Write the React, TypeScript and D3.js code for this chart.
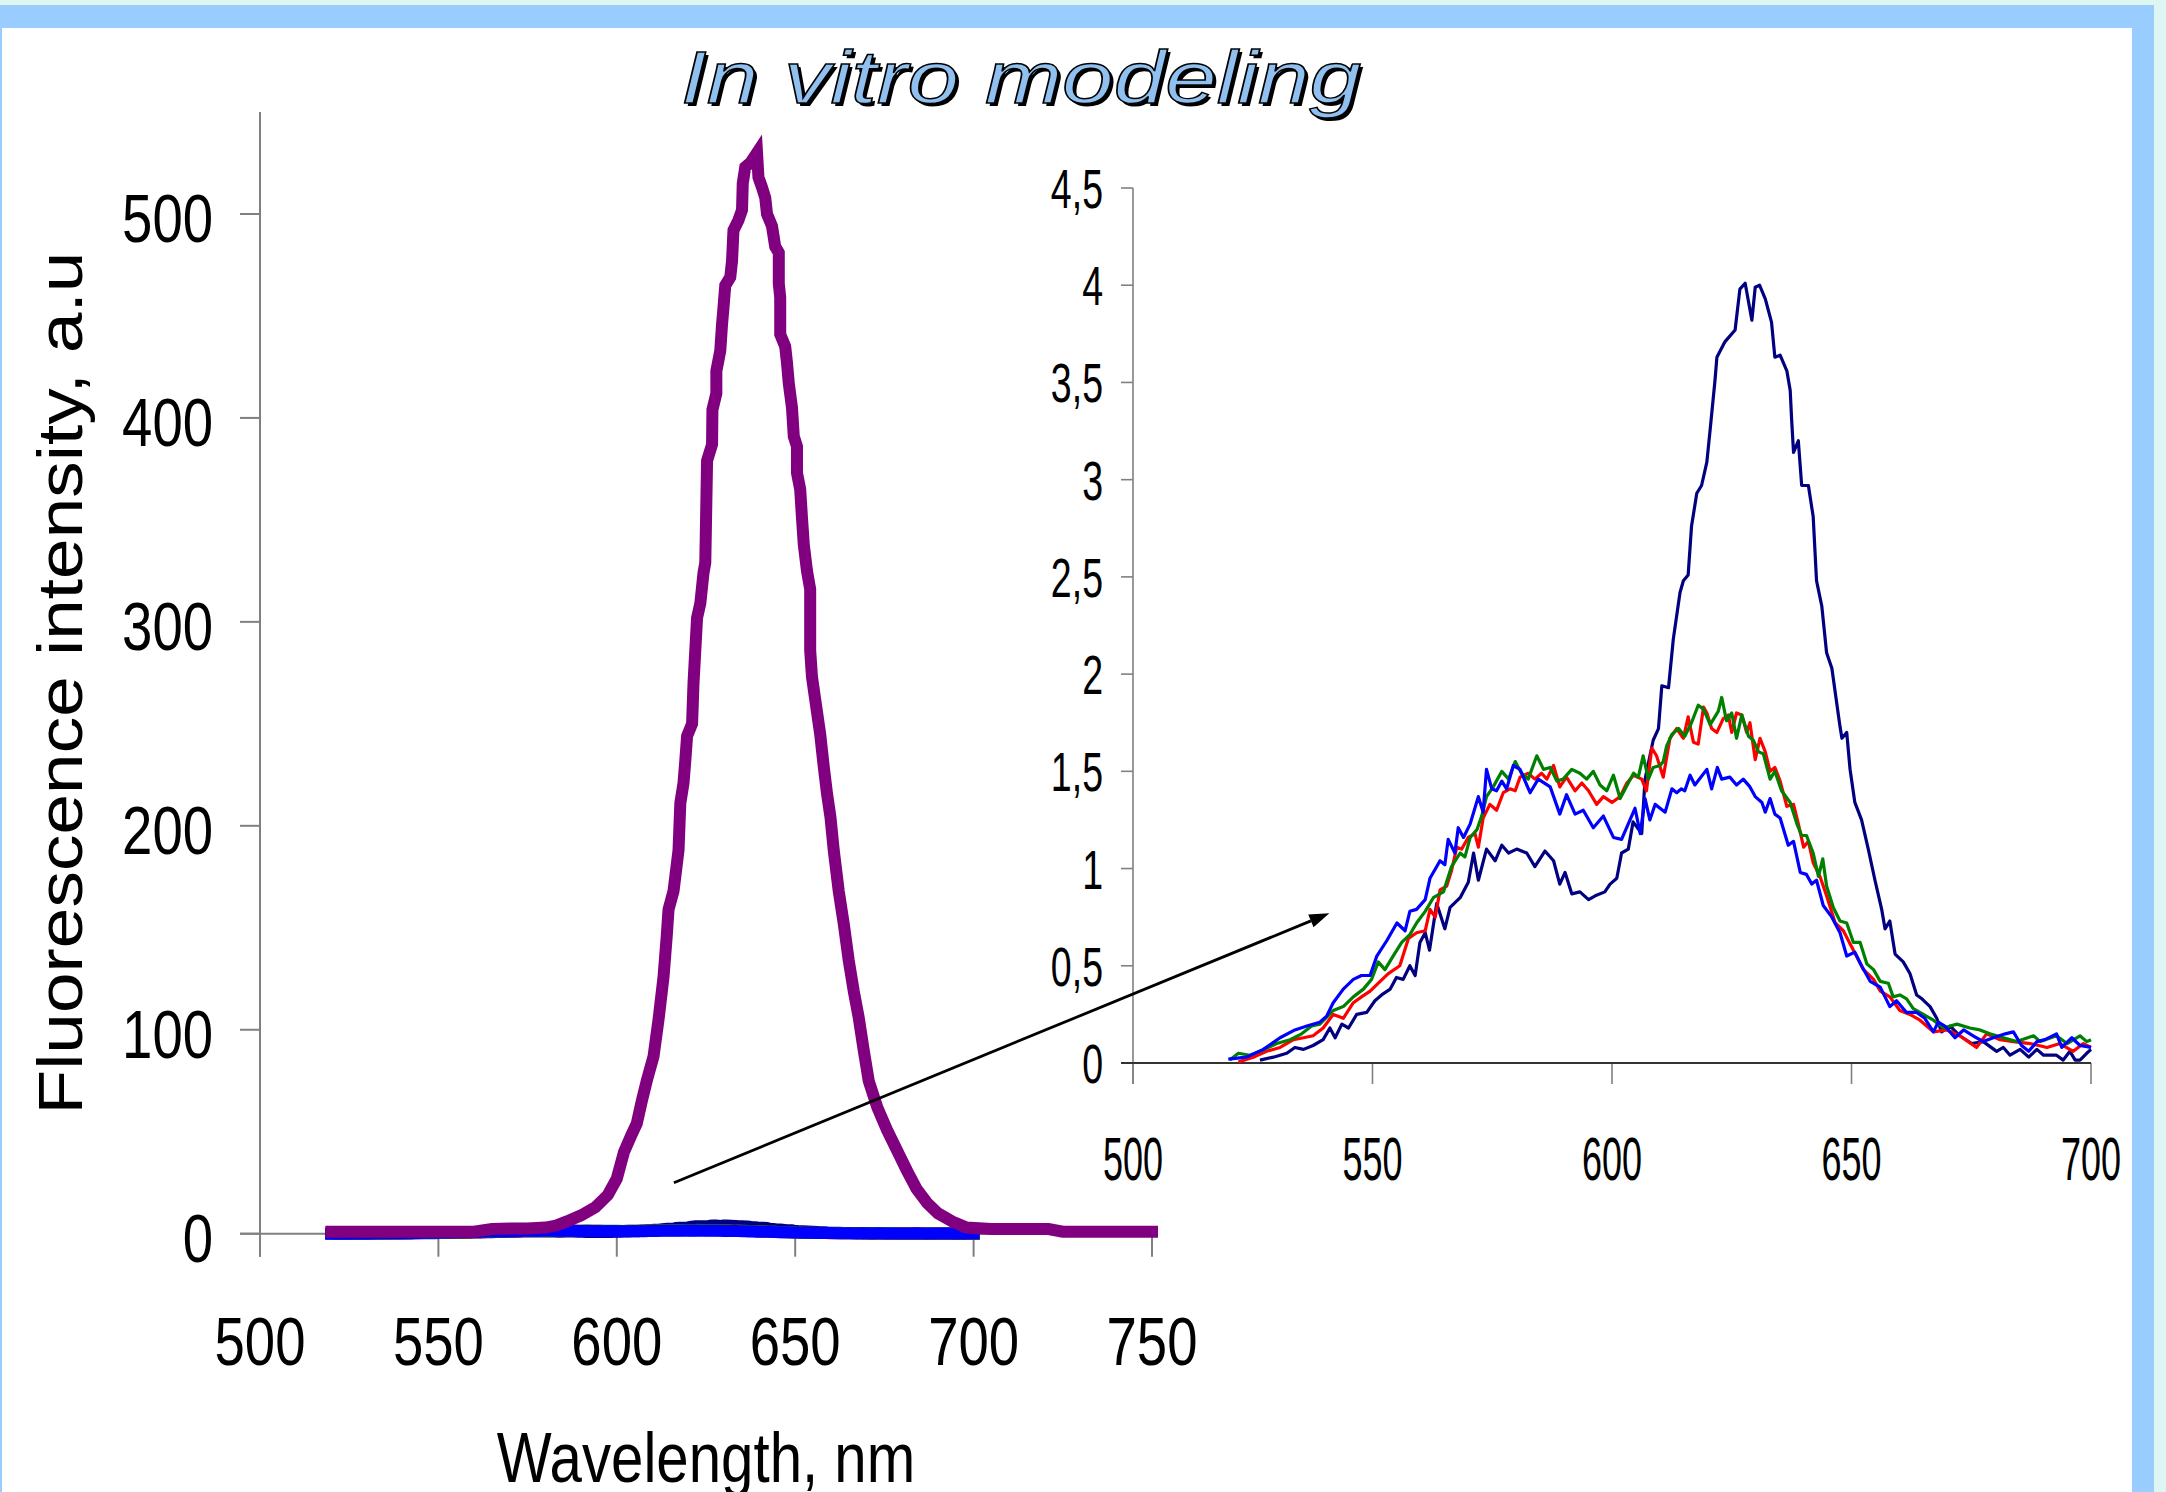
import React from 'react';
import * as d3 from 'd3';

const W = 2166;
const H = 1492;

// main chart ticks
const mainXTicks = [500, 550, 600, 650, 700, 750];
const mainYTicks = [0, 100, 200, 300, 400, 500];

// inset ticks (decimal comma as in the source slide)
const insetXTicks = [500, 550, 600, 650, 700];
const insetYTicks = [0, 0.5, 1, 1.5, 2, 2.5, 3, 3.5, 4, 4.5];
const insetYLabels = ['0', '0,5', '1', '1,5', '2', '2,5', '3', '3,5', '4', '4,5'];

// big spectrum on the main chart, [nm, a.u.]
const purpleSpectrum: [number, number][] = [
  [520, 1], [530, 1], [540, 1], [550, 1], [560, 1], [565, 2.3], [570, 2.5], [575, 2.5], [580, 3],
  [583, 4], [586, 6], [590, 9], [594, 13], [597.5, 19], [600, 27], [602, 40], [604, 48], [605.6, 54],
  [607, 65], [608.4, 75], [610.3, 87], [611.7, 105], [613.1, 126], [614, 146], [614.5, 159], [615.9, 168],
  [617.3, 188], [617.8, 211], [618.7, 221], [619.2, 232], [619.7, 244], [621.1, 250], [621.5, 270],
  [622, 286], [622.5, 302], [623.4, 309], [624.3, 324], [624.8, 329], [625.3, 379], [626.7, 387],
  [626.8, 404], [627.9, 412], [627.9, 423], [629, 433], [629.5, 446], [629.9, 454], [630.4, 465],
  [631.8, 469], [632.3, 477], [632.7, 492], [634.1, 497], [635.1, 502], [635.3, 515], [636, 523],
  [637.4, 525], [639.3, 530], [639.7, 518], [640.7, 513], [641.6, 508], [642.1, 500], [643.5, 494],
  [644.4, 484], [645.4, 481], [645.4, 466], [645.8, 459], [645.8, 441], [647.2, 435], [647.7, 427],
  [648.2, 417], [649.1, 405], [649.6, 391], [650.5, 386], [650.5, 373], [651.4, 365], [651.9, 351],
  [652.4, 338], [653.3, 325], [654.2, 316], [654.2, 286], [654.7, 273], [655.6, 262], [657, 245],
  [658, 229], [658.9, 216], [659.9, 204], [660.8, 188], [662.2, 168], [663.6, 152], [665, 134],
  [666.4, 119], [667.8, 106], [669.2, 90], [670.6, 75], [673, 62], [675.7, 51], [678.5, 41],
  [681.3, 31], [684, 22], [687, 15], [690, 10], [694, 6], [698, 3], [705, 2.3], [715, 2.3],
  [721, 2.3], [725, 1], [735, 1], [750, 1],
];

// the four weak spectra (shown in the inset), [nm, a.u.]
const navySpectrum: [number, number][] = [
  [526.5, 0.015], [529.3, 0.03], [532.1, 0.05], [533.8, 0.08], [535.6, 0.07], [537.6, 0.09], [539.7, 0.12],
  [541.1, 0.18], [542.2, 0.13], [543.6, 0.2], [545, 0.18], [546.7, 0.25], [548.8, 0.26], [550.5, 0.32],
  [551.9, 0.35], [553.7, 0.38], [555, 0.44], [556.4, 0.43], [557.8, 0.5], [558.9, 0.45], [559.9, 0.62],
  [561, 0.67], [561.9, 0.58], [563.4, 0.82], [565.1, 0.69], [566.2, 0.8], [568.3, 0.85], [570, 0.93],
  [571.1, 1.08], [572.1, 0.94], [573.8, 1.1], [575.6, 1.04], [577, 1.12], [578.4, 1.08], [580.1, 1.1],
  [582.2, 1.08], [583.9, 1.01], [586, 1.09], [587.8, 1.04], [589.1, 0.92], [590.2, 0.98], [591.6, 0.87],
  [593.3, 0.88], [595.1, 0.84], [596.5, 0.86], [598.5, 0.88], [599.6, 0.92], [601, 0.95], [602, 1.08],
  [603.4, 1.1], [604.4, 1.24], [606.2, 1.18], [606.9, 1.46], [608.6, 1.66], [609.7, 1.72], [610.4, 1.94],
  [611.8, 1.93], [612.8, 2.18], [614.2, 2.42], [614.9, 2.48], [615.9, 2.51], [616.6, 2.76], [617.7, 2.93],
  [618.7, 2.97], [619.8, 3.09], [620.5, 3.26], [621.5, 3.51], [621.9, 3.63], [623.6, 3.71], [625.7, 3.77],
  [626.7, 3.98], [627.8, 4.01], [629.2, 3.82], [629.9, 3.99], [630.8, 4.0], [632, 3.93], [633.3, 3.81],
  [634, 3.63], [635.1, 3.64], [636.5, 3.56], [637.2, 3.46], [637.5, 3.31], [637.9, 3.14], [638.9, 3.2],
  [639.6, 2.97], [641, 2.97], [642, 2.81], [642.7, 2.48], [643.8, 2.35], [644.8, 2.11], [645.9, 2.03],
  [647.6, 1.73], [648, 1.67], [649, 1.7], [649.7, 1.51], [650.7, 1.34], [652.1, 1.25], [653.5, 1.1],
  [654.9, 0.94], [656.3, 0.79], [657, 0.69], [658, 0.73], [659.1, 0.56], [660.8, 0.52], [662.2, 0.46],
  [663.6, 0.35], [664.7, 0.33], [666.4, 0.29], [667.8, 0.23], [668.8, 0.16], [670.6, 0.19], [672.6, 0.14],
  [675.1, 0.1], [677.5, 0.11], [680.3, 0.06], [681.7, 0.08], [683.1, 0.04], [685.2, 0.07], [687, 0.03],
  [688.7, 0.07], [690.1, 0.04], [692.8, 0.04], [694.2, 0.015], [695.6, 0.06], [696.7, 0.015],
  [697.7, 0.015], [699.1, 0.05], [700, 0.07],
];

const redSpectrum: [number, number][] = [
  [522, 0.005], [525.1, 0.03], [527.9, 0.06], [530.7, 0.08], [533.5, 0.12], [535.6, 0.13], [537.6, 0.14],
  [539.7, 0.18], [541.8, 0.25], [543.9, 0.23], [546, 0.31], [547.7, 0.34], [549.5, 0.37], [551.6, 0.42],
  [553.3, 0.46], [555.7, 0.5], [557.5, 0.64], [559.2, 0.67], [561, 0.68], [562, 0.79], [563.1, 0.75],
  [564.1, 0.89], [565.5, 0.91], [566.5, 0.99], [567.6, 1.11], [568.6, 1.1], [570, 1.16], [571.4, 1.18],
  [572.1, 1.11], [573.1, 1.26], [574.5, 1.33], [575.9, 1.3], [577.3, 1.39], [578.7, 1.41], [579.8, 1.4],
  [580.8, 1.47], [582.5, 1.49], [583.9, 1.46], [585.3, 1.49], [586.4, 1.46], [587.8, 1.53], [589.1, 1.42],
  [590.5, 1.47], [592.3, 1.4], [593.7, 1.44], [595.1, 1.4], [596.8, 1.33], [598.2, 1.37], [600, 1.34],
  [601.7, 1.37], [603.1, 1.44], [604.5, 1.48], [606.2, 1.46], [607.2, 1.4], [608.3, 1.62], [609.3, 1.58],
  [610.7, 1.47], [612.1, 1.67], [613.5, 1.72], [614.9, 1.67], [615.9, 1.78], [617, 1.65], [618, 1.64],
  [619.1, 1.83], [619.8, 1.8], [620.8, 1.72], [621.9, 1.7], [623.2, 1.77], [624.3, 1.79], [625, 1.7],
  [626, 1.8], [627.1, 1.79], [628.1, 1.7], [628.8, 1.75], [629.9, 1.56], [630.9, 1.67], [632, 1.6],
  [633, 1.5], [634, 1.52], [635.1, 1.45], [636.5, 1.32], [637.9, 1.33], [638.9, 1.23], [640, 1.11],
  [641, 1.14], [642, 1.03], [643.4, 0.96], [644.8, 0.86], [646.6, 0.72], [648.3, 0.68], [650.4, 0.58],
  [652.5, 0.48], [654.6, 0.43], [656, 0.37], [658, 0.34], [660.1, 0.27], [662.2, 0.25], [664.3, 0.22],
  [667.1, 0.16], [669.9, 0.17], [672.6, 0.14], [676.1, 0.08], [678.2, 0.15], [681, 0.12], [683.8, 0.11],
  [687.3, 0.1], [690.8, 0.08], [693.5, 0.1], [696.3, 0.06], [698.4, 0.1], [700, 0.08],
];

const greenSpectrum: [number, number][] = [
  [520.2, 0.015], [522, 0.05], [524.4, 0.04], [526.5, 0.06], [530, 0.1], [532.8, 0.12], [535.2, 0.15],
  [537.3, 0.19], [539, 0.2], [541.8, 0.27], [543.9, 0.29], [546, 0.34], [548.1, 0.38], [549.8, 0.43],
  [551.2, 0.52], [552.6, 0.48], [554.3, 0.55], [556.1, 0.62], [557.8, 0.66], [559.2, 0.72], [561, 0.78],
  [562.7, 0.85], [564.8, 0.88], [566.5, 1.01], [568.3, 1.08], [569.3, 1.06], [570.4, 1.16], [571.8, 1.2],
  [572.8, 1.27], [573.8, 1.37], [575.2, 1.42], [577, 1.5], [578.4, 1.46], [579.8, 1.55], [581.1, 1.49],
  [582.5, 1.46], [584.3, 1.58], [585.7, 1.51], [587.1, 1.52], [588.5, 1.45], [589.8, 1.46], [591.6, 1.51],
  [593.3, 1.49], [594.7, 1.46], [596.1, 1.5], [597.5, 1.43], [598.9, 1.4], [600.3, 1.48], [601.7, 1.36],
  [603.4, 1.44], [604.5, 1.49], [605.5, 1.47], [606.5, 1.58], [607.6, 1.46], [608.6, 1.52], [610, 1.53],
  [610.7, 1.55], [611.4, 1.63], [612.5, 1.69], [613.9, 1.72], [615.2, 1.68], [616.6, 1.75], [618, 1.84],
  [619.1, 1.82], [620.5, 1.74], [622.2, 1.81], [622.9, 1.88], [623.9, 1.76], [625, 1.8], [626, 1.67],
  [627.1, 1.79], [628.5, 1.68], [629.5, 1.66], [630.6, 1.6], [631.6, 1.59], [633, 1.46], [634, 1.5],
  [635.4, 1.4], [637.2, 1.34], [638.6, 1.23], [639.6, 1.17], [640.6, 1.17], [642, 1.08], [643.1, 0.96],
  [644, 1.05], [644.8, 0.91], [646.2, 0.8], [647.6, 0.73], [649, 0.72], [650.4, 0.62], [651.8, 0.62],
  [653.2, 0.51], [654.6, 0.48], [656, 0.42], [657.7, 0.41], [658.7, 0.34], [660.1, 0.35], [661.5, 0.33],
  [662.9, 0.28], [665, 0.25], [667.1, 0.22], [669.2, 0.18], [672, 0.2], [674.7, 0.18], [676.8, 0.17],
  [678.9, 0.15], [681.7, 0.13], [684.5, 0.11], [688, 0.14], [689.4, 0.11], [692.8, 0.14], [695, 0.1],
  [697.7, 0.14], [699.1, 0.11], [700, 0.12],
];

const blueSpectrum: [number, number][] = [
  [519.9, 0.02], [523.7, 0.03], [527.2, 0.07], [530.7, 0.13], [533.8, 0.17], [536.3, 0.19], [539, 0.21],
  [540.4, 0.24], [541.8, 0.31], [543.9, 0.38], [546, 0.43], [547.7, 0.45], [549.5, 0.45], [550.9, 0.55],
  [553, 0.63], [555.1, 0.72], [556.8, 0.68], [557.8, 0.78], [559.2, 0.79], [561, 0.84], [562, 0.95],
  [564.1, 1.04], [565.1, 1.02], [565.8, 1.15], [567.2, 1.08], [567.9, 1.21], [569, 1.16], [570.4, 1.23],
  [572.1, 1.37], [573.1, 1.29], [573.8, 1.51], [574.9, 1.41], [575.9, 1.4], [577, 1.45], [578, 1.41],
  [579.4, 1.53], [580.8, 1.51], [582.9, 1.39], [584.6, 1.46], [587.1, 1.42], [589.1, 1.28], [590.5, 1.38],
  [592.3, 1.28], [594, 1.3], [596.1, 1.21], [598.2, 1.27], [600.3, 1.16], [602, 1.15], [603.4, 1.23],
  [604.8, 1.31], [605.9, 1.18], [606.9, 1.36], [607.9, 1.25], [609, 1.33], [611.1, 1.29], [612.5, 1.41],
  [613.5, 1.39], [614.5, 1.41], [615.2, 1.4], [616.3, 1.48], [617.3, 1.43], [619.8, 1.51], [620.8, 1.41],
  [622, 1.52], [622.9, 1.46], [624.6, 1.47], [626, 1.43], [627.4, 1.46], [628.8, 1.42], [629.9, 1.37],
  [631.3, 1.34], [632, 1.29], [633, 1.36], [634, 1.28], [635.1, 1.26], [636.8, 1.12], [637.9, 1.14],
  [639.3, 0.98], [640.6, 0.97], [641.7, 0.92], [642.7, 0.94], [644.1, 0.81], [645.9, 0.75], [647.6, 0.67],
  [649, 0.55], [650.7, 0.57], [652.1, 0.5], [653.9, 0.42], [656, 0.39], [658, 0.29], [659.4, 0.32],
  [661.5, 0.26], [663.6, 0.26], [665.3, 0.23], [667.1, 0.16], [668.1, 0.21], [669.5, 0.19], [671.6, 0.13],
  [673.4, 0.17], [675.4, 0.14], [677.5, 0.11], [679.6, 0.13], [682.1, 0.15], [683.8, 0.16], [685.5, 0.09],
  [687, 0.06], [688.7, 0.11], [690.4, 0.12], [692.8, 0.15], [693.9, 0.08], [696, 0.13], [697.7, 0.09],
  [700, 0.08],
];

// draw order as in the original: navy under, blue on top
const weakSeries = [
  { name: 'navy', color: '#000080', data: navySpectrum },
  { name: 'red', color: '#ff0000', data: redSpectrum },
  { name: 'green', color: '#008000', data: greenSpectrum },
  { name: 'blue', color: '#0000ff', data: blueSpectrum },
];

// arrow: from a point of the main chart to a point of the inset
const arrowFrom: [number, number] = [616, 25];
const arrowTo: [number, number] = [541, 0.77];

const FONT = '"Liberation Sans", Arial, sans-serif';

// the slide was squeezed horizontally, so text is scaled in x
const SText = ({ x, y, sx, size, anchor = 'middle', children }: any) => (
  <text
    transform={`translate(${x},${y}) scale(${sx},1)`}
    textAnchor={anchor}
    fontSize={size}
    fontFamily={FONT}
    fill="#000"
  >
    {children}
  </text>
);

export default function App() {
  // main chart scales
  const xL = d3.scaleLinear().domain([500, 750]).range([260, 1152]);
  const yL = d3.scaleLinear().domain([0, 550]).range([1233.7, 112]);
  // inset scales
  const xI = d3.scaleLinear().domain([500, 700]).range([1133, 2091]);
  const yI = d3.scaleLinear().domain([0, 4.5]).range([1063, 188]);

  const lineL = d3.line<[number, number]>().x(d => xL(d[0])).y(d => yL(d[1]));
  const lineI = d3.line<[number, number]>().x(d => xI(d[0])).y(d => yI(d[1]));

  const axisGray = '#808080';

  // arrow geometry
  const ax0 = xL(arrowFrom[0]);
  const ay0 = yL(arrowFrom[1]);
  const ax1 = xI(arrowTo[0]);
  const ay1 = yI(arrowTo[1]);
  const ang = Math.atan2(ay1 - ay0, ax1 - ax0);
  const headLen = 20;
  const headHalf = 7;
  const bx = ax1 - headLen * Math.cos(ang);
  const by = ay1 - headLen * Math.sin(ang);
  const head = [
    [ax1, ay1],
    [bx - headHalf * Math.sin(ang), by + headHalf * Math.cos(ang)],
    [bx + headHalf * Math.sin(ang), by - headHalf * Math.cos(ang)],
  ]
    .map(p => p.join(','))
    .join(' ');

  return (
    <svg
      width={W}
      height={H}
      viewBox={`0 0 ${W} ${H}`}
      style={{ position: 'absolute', left: 0, top: 0, display: 'block' }}
    >
      {/* slide frame */}
      <rect x={0} y={0} width={W} height={H} fill="#ddf6f1" />
      <rect x={0} y={5} width={2154} height={H - 5} fill="#99ccff" />
      <rect x={2} y={28} width={2130} height={H - 28} fill="#ffffff" />

      {/* title */}
      <text
        x={684}
        y={106}
        fontSize={75}
        fontStyle="italic"
        fontFamily={FONT}
        textLength={680}
        lengthAdjust="spacingAndGlyphs"
        fill="#000"
      >
        In vitro modeling
      </text>
      <text
        x={681}
        y={103}
        fontSize={75}
        fontStyle="italic"
        fontFamily={FONT}
        textLength={680}
        lengthAdjust="spacingAndGlyphs"
        fill="#8fc0ef"
        stroke="#000"
        strokeWidth={1.4}
      >
        In vitro modeling
      </text>

      {/* main chart axes */}
      <g stroke={axisGray} strokeWidth={2}>
        <line x1={xL(500)} x2={xL(500)} y1={yL(550)} y2={yL(0) + 23} />
        <line x1={xL(500) - 20} x2={xL(750)} y1={yL(0)} y2={yL(0)} />
        {mainYTicks.map(t => (
          <line key={t} x1={xL(500) - 20} x2={xL(500)} y1={yL(t)} y2={yL(t)} />
        ))}
        {mainXTicks.map(t => (
          <line key={t} x1={xL(t)} x2={xL(t)} y1={yL(0)} y2={yL(0) + 23} />
        ))}
      </g>
      {mainYTicks.map(t => (
        <SText key={t} x={213} y={yL(t) + 28} sx={0.79} size={69} anchor="end">
          {t}
        </SText>
      ))}
      {mainXTicks.map(t => (
        <SText key={t} x={xL(t)} y={1365} sx={0.79} size={69}>
          {t}
        </SText>
      ))}
      <SText x={706} y={1482} sx={0.82} size={71}>
        Wavelength, nm
      </SText>
      <text
        transform={`translate(82,683) scale(0.86,1) rotate(-90)`}
        textAnchor="middle"
        fontSize={73}
        fontFamily={FONT}
        fill="#000"
      >
        Fluorescence intensity, a.u
      </text>

      {/* weak spectra at the main scale (almost flat) */}
      {weakSeries.map(s => (
        <path
          key={s.name}
          d={lineL(s.data) || ''}
          fill="none"
          stroke={s.color}
          strokeWidth={12}
          strokeLinecap="square"
        />
      ))}
      <path
        d={lineL(purpleSpectrum) || ''}
        fill="none"
        stroke="#800080"
        strokeWidth={12}
        strokeLinecap="square"
        strokeLinejoin="miter"
      />

      {/* inset axes */}
      <g stroke={axisGray} strokeWidth={1.6}>
        <line x1={xI(500)} x2={xI(500)} y1={yI(4.5)} y2={yI(0) + 21} />
        {insetYTicks.map(t => (
          <line key={t} x1={xI(500) - 12} x2={xI(500)} y1={yI(t)} y2={yI(t)} />
        ))}
        {insetXTicks.map(t => (
          <line key={t} x1={xI(t)} x2={xI(t)} y1={yI(0)} y2={yI(0) + 21} />
        ))}
      </g>
      <line x1={xI(500) - 12} x2={xI(700)} y1={yI(0)} y2={yI(0)} stroke="#333" strokeWidth={2.2} />
      {insetYTicks.map((t, i) => (
        <SText key={t} x={1103} y={yI(t) + 20} sx={0.67} size={56} anchor="end">
          {insetYLabels[i]}
        </SText>
      ))}
      {insetXTicks.map(t => (
        <SText key={t} x={xI(t)} y={1180} sx={0.59} size={61}>
          {t}
        </SText>
      ))}

      {/* inset spectra */}
      {weakSeries.map(s => (
        <path
          key={s.name}
          d={lineI(s.data) || ''}
          fill="none"
          stroke={s.color}
          strokeWidth={3.2}
          strokeLinejoin="round"
        />
      ))}

      {/* arrow */}
      <line x1={ax0} y1={ay0} x2={bx} y2={by} stroke="#000" strokeWidth={2.8} />
      <polygon points={head} fill="#000" />
    </svg>
  );
}
